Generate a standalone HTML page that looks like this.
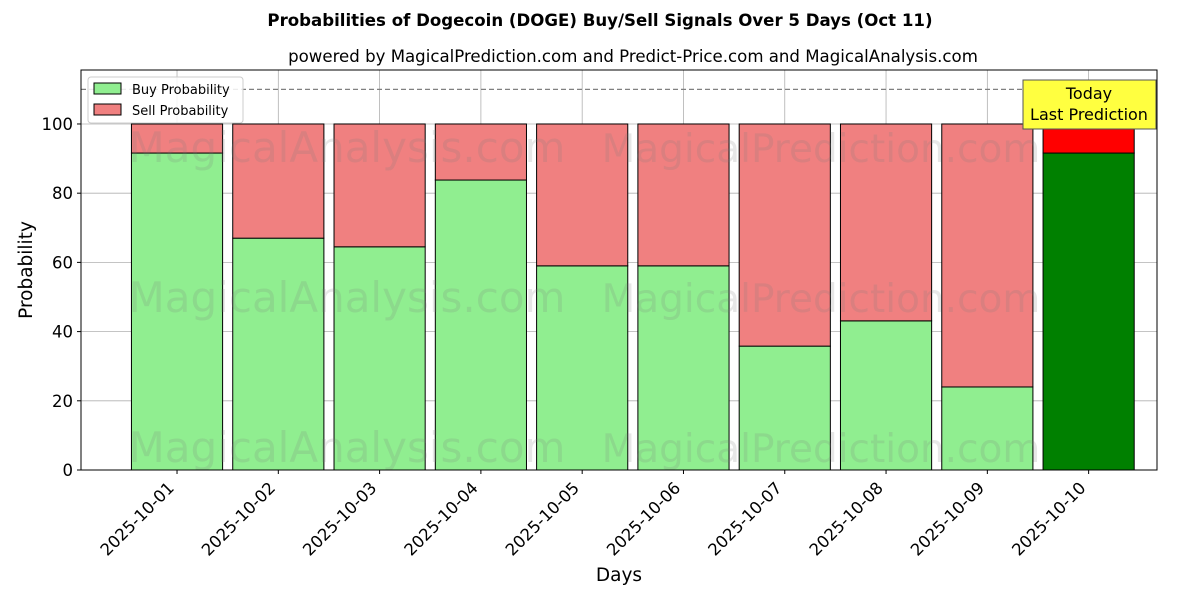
<!DOCTYPE html>
<html><head><meta charset="utf-8"><style>
body{margin:0;background:#fff;font-family:"Liberation Sans","DejaVu Sans",sans-serif;}
svg text{font-family:"DejaVu Sans","Liberation Sans",sans-serif;}
</style></head><body>
<svg id="c" width="1200" height="600" xmlns="http://www.w3.org/2000/svg"></svg>
<script>
const categories=["2025-10-01","2025-10-02","2025-10-03","2025-10-04","2025-10-05","2025-10-06","2025-10-07","2025-10-08","2025-10-09","2025-10-10"];
const buyValues=[91.6,67.0,64.5,83.8,59.0,59.0,35.8,43.1,24.0,91.6];
const sellValues=buyValues.map(v=>100-v);
const yTicks=[0,20,40,60,80,100];
const L=81,R=1157,T=70,B=470;
const yMax=115.6, xMin=-0.948, xMax=9.675;
const ys=v=>B-(v/yMax)*(B-T);
const xs=i=>L+(i-xMin)/(xMax-xMin)*(R-L);
const bw=0.9*(R-L)/(xMax-xMin);
const svg=document.getElementById('c');
const NS="http://www.w3.org/2000/svg";
function mk(tag,attrs,parent){const e=document.createElementNS(NS,tag);for(const k in attrs)e.setAttribute(k,attrs[k]);(parent||svg).appendChild(e);return e;}
function txt(s,attrs){const e=mk('text',attrs);e.textContent=s;return e;}
let t;
t=txt("Probabilities of Dogecoin (DOGE) Buy/Sell Signals Over 5 Days (Oct 11)",{x:600,y:26,'text-anchor':'middle','font-size':16.6,'font-weight':'bold'});

t=txt("powered by MagicalPrediction.com and Predict-Price.com and MagicalAnalysis.com",{x:633,y:62,'text-anchor':'middle','font-size':16.6});

yTicks.forEach(v=>{const g=mk('line',{x1:L,x2:R,y1:ys(v),y2:ys(v),stroke:'#b0b0b0','stroke-width':0.8});
});
categories.forEach((c,i)=>{const g=mk('line',{x1:xs(i),x2:xs(i),y1:T,y2:B,stroke:'#b0b0b0','stroke-width':0.8});
});
categories.forEach((c,i)=>{
  const last=i===categories.length-1;
  const x=xs(i)-bw/2;
  const b=mk('rect',{x:x,y:ys(buyValues[i]),width:bw,height:B-ys(buyValues[i]),fill:last?'#008000':'#90ee90',stroke:'#000','stroke-width':1});
  
  const s=mk('rect',{x:x,y:ys(buyValues[i]+sellValues[i]),width:bw,height:ys(buyValues[i])-ys(buyValues[i]+sellValues[i]),fill:last?'#ff0000':'#f08080',stroke:'#000','stroke-width':1});
  
});
[[347,148,"MagicalAnalysis.com",42],[821,148,"MagicalPrediction.com",39],[347,298,"MagicalAnalysis.com",42],[821,298,"MagicalPrediction.com",39],[347,448,"MagicalAnalysis.com",42],[821,448,"MagicalPrediction.com",39]].forEach(w=>{
  const e=txt(w[2],{x:w[0],y:w[1]+14,'text-anchor':'middle','font-size':w[3],fill:'rgba(120,120,120,0.18)'});
  });
t=mk('line',{x1:L,x2:R,y1:ys(110),y2:ys(110),stroke:'#808080','stroke-width':1.2,'stroke-dasharray':'5,3'});

t=mk('rect',{x:L,y:T,width:R-L,height:B-T,fill:'none',stroke:'#000','stroke-width':1});

yTicks.forEach(v=>{mk('line',{x1:L-4,x2:L,y1:ys(v),y2:ys(v),stroke:'#000'});
  const e=txt(String(v),{x:L-8,y:ys(v)+6,'text-anchor':'end','font-size':16.5});
  });
categories.forEach((c,i)=>{mk('line',{x1:xs(i),x2:xs(i),y1:B,y2:B+4,stroke:'#000'});
  const ax=xs(i)-2, ay=B+19;
  const e=txt(c,{x:ax,y:ay,'text-anchor':'end','font-size':16.5,transform:`rotate(-45 ${ax} ${ay})`});
  });
t=txt("Days",{x:619,y:581,'text-anchor':'middle','font-size':18.5});

t=txt("Probability",{x:32,y:270,'text-anchor':'middle','font-size':18.5,transform:'rotate(-90 32 270)'});

t=mk('rect',{x:1023,y:80,width:133,height:49,fill:'#ffff40',stroke:'#555','stroke-width':1});

txt("Today",{x:1089,y:99,'text-anchor':'middle','font-size':16});
txt("Last Prediction",{x:1089,y:120,'text-anchor':'middle','font-size':16});
const lg=mk('g',{});
mk('rect',{x:88,y:77,width:155,height:46,fill:'#fff','fill-opacity':0.85,stroke:'#ccc',rx:3},lg);
mk('rect',{x:94,y:83,width:27,height:11,fill:'#90ee90',stroke:'#000'},lg);
mk('rect',{x:94,y:104,width:27,height:11,fill:'#f08080',stroke:'#000'},lg);
t=txt("Buy Probability",{x:132,y:94,'font-size':13});lg.appendChild(t);

t=txt("Sell Probability",{x:132,y:115,'font-size':13});lg.appendChild(t);

</script>
</body></html>
